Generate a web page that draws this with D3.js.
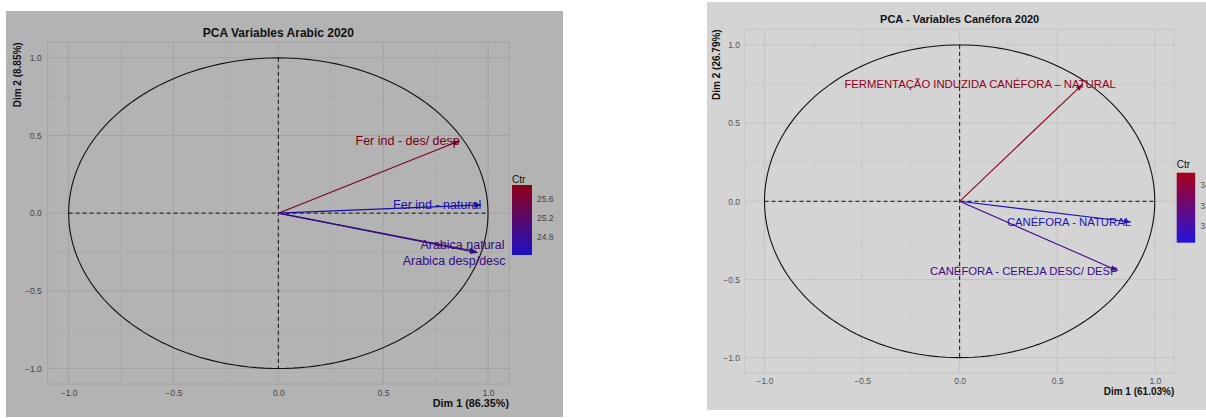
<!DOCTYPE html>
<html>
<head>
<meta charset="utf-8">
<script src="https://cdn.jsdelivr.net/npm/d3@7"></script>
<style>
  body { margin: 0; background: #fff; }
  svg { display: block; font-family: "Liberation Sans", Arial, sans-serif; }
</style>
</head>
<body>
<svg id="chart" width="1206" height="418"></svg>
<script>
// Arabic 2020 variables
var arabicVars = ["Fer ind - des/ desp", "Fer ind - natural", "Arabica natural", "Arabica desp/desc"];
var arabicDim1 = [0.865, 0.968, 0.945, 0.95];
var arabicDim2 = [0.466, 0.053, -0.247, -0.255];
var arabicCtr = [25.9, 24.42, 24.9, 24.78];
var arabicCtrTicks = [24.8, 25.2, 25.6];

// Canefora 2020 variables
var caneforaVars = ["FERMENTAÇÃO INDUZIDA CANÉFORA – NATURAL", "CANÉFORA - NATURAL", "CANÉFORA - CEREJA DESC/ DESP"];
var caneforaDim1 = [0.631, 0.878, 0.81];
var caneforaDim2 = [0.75, -0.132, -0.444];
var caneforaCtr = [34.3, 32.6, 33.1];
var caneforaCtrTicks = [33.0, 33.5, 34.0];

var axisTicks = [-1.0, -0.5, 0.0, 0.5, 1.0];
var minorTicks = [-0.75, -0.25, 0.25, 0.75];

var svg = d3.select("#chart");

function drawPanel(cfg) {
  var g = svg.append("g");

  g.append("rect")
    .attr("x", cfg.bg[0]).attr("y", cfg.bg[1])
    .attr("width", cfg.bg[2] - cfg.bg[0]).attr("height", cfg.bg[3] - cfg.bg[1])
    .attr("fill", cfg.bgColor);

  var x = d3.scaleLinear().domain([-1.1, 1.1]).range([cfg.plot.left, cfg.plot.right]);
  var y = d3.scaleLinear().domain([-1.1, 1.1]).range([cfg.plot.bottom, cfg.plot.top]);

  // grid
  g.selectAll(".minorx").data(minorTicks).enter().append("line")
    .attr("x1", d => x(d)).attr("x2", d => x(d))
    .attr("y1", cfg.plot.top).attr("y2", cfg.plot.bottom)
    .attr("stroke", cfg.gridColor).attr("stroke-width", 0.6).attr("opacity", 0.6);
  g.selectAll(".minory").data(minorTicks).enter().append("line")
    .attr("y1", d => y(d)).attr("y2", d => y(d))
    .attr("x1", cfg.plot.left).attr("x2", cfg.plot.right)
    .attr("stroke", cfg.gridColor).attr("stroke-width", 0.6).attr("opacity", 0.6);
  g.selectAll(".majorx").data(axisTicks).enter().append("line")
    .attr("x1", d => x(d)).attr("x2", d => x(d))
    .attr("y1", cfg.plot.top).attr("y2", cfg.plot.bottom)
    .attr("stroke", cfg.gridColor).attr("stroke-width", 1);
  g.selectAll(".majory").data(axisTicks).enter().append("line")
    .attr("y1", d => y(d)).attr("y2", d => y(d))
    .attr("x1", cfg.plot.left).attr("x2", cfg.plot.right)
    .attr("stroke", cfg.gridColor).attr("stroke-width", 1);

  g.append("rect")
    .attr("x", cfg.plot.left).attr("y", cfg.plot.top)
    .attr("width", cfg.plot.right - cfg.plot.left).attr("height", cfg.plot.bottom - cfg.plot.top)
    .attr("fill", "none").attr("stroke", cfg.gridColor).attr("stroke-width", 1);

  // axes labels (no tick marks)
  var xAxis = g.append("g")
    .attr("transform", "translate(0," + cfg.plot.bottom + ")")
    .call(d3.axisBottom(x).tickValues(axisTicks).tickFormat(d3.format(".1f")).tickSize(0).tickPadding(cfg.xPad));
  var yAxis = g.append("g")
    .attr("transform", "translate(" + cfg.plot.left + ",0)")
    .call(d3.axisLeft(y).tickValues(axisTicks).tickFormat(d3.format(".1f")).tickSize(0).tickPadding(cfg.yPad));
  [xAxis, yAxis].forEach(function(a) {
    a.select(".domain").remove();
    a.selectAll("text").attr("fill", cfg.tickColor).attr("font-size", "8.5px")
      .attr("font-family", "Liberation Sans, Arial, sans-serif");
  });

  // correlation circle
  var circle = d3.range(0, 361, 2).map(a => [Math.cos(a * Math.PI / 180), Math.sin(a * Math.PI / 180)]);
  g.append("path")
    .attr("d", d3.line().x(d => x(d[0])).y(d => y(d[1]))(circle))
    .attr("fill", "none").attr("stroke", "#111").attr("stroke-width", 1.1);

  // dashed axes
  g.append("line").attr("x1", x(-1)).attr("x2", x(1)).attr("y1", y(0)).attr("y2", y(0))
    .attr("stroke", "#111").attr("stroke-dasharray", "4,3").attr("stroke-width", 1);
  g.append("line").attr("x1", x(0)).attr("x2", x(0)).attr("y1", y(1)).attr("y2", y(-1))
    .attr("stroke", "#111").attr("stroke-dasharray", "4,3").attr("stroke-width", 1);

  var ext = d3.extent(cfg.ctr);
  var color = d3.scaleLinear().domain(ext).range(cfg.gradient);

  // arrows
  cfg.vars.forEach(function(name, i) {
    var col = d3.color(color(cfg.ctr[i])).darker(0.45).formatHex();
    var x0 = x(0), y0 = y(0), x1 = x(cfg.dim1[i]), y1 = y(cfg.dim2[i]);
    var ang = Math.atan2(y1 - y0, x1 - x0);
    g.append("line")
      .attr("x1", x0).attr("y1", y0).attr("x2", x1).attr("y2", y1)
      .attr("stroke", col).attr("stroke-width", 1.1);
    var len = 7, w = 2.6;
    var bx = x1 - len * Math.cos(ang), by = y1 - len * Math.sin(ang);
    g.append("path")
      .attr("d", "M" + x1 + "," + y1 +
        "L" + (bx + w * Math.sin(ang)) + "," + (by - w * Math.cos(ang)) +
        "L" + (bx - w * Math.sin(ang)) + "," + (by + w * Math.cos(ang)) + "Z")
      .attr("fill", col);
    g.append("text")
      .attr("x", x1 + cfg.labelNudge[i][0])
      .attr("y", y1 + cfg.labelNudge[i][1])
      .attr("dy", "0.35em")
      .attr("text-anchor", "end")
      .attr("font-size", cfg.labelSize)
      .attr("fill", col)
      .text(name);
  });

  // title
  g.append("text")
    .attr("x", (cfg.plot.left + cfg.plot.right) / 2).attr("y", cfg.titleY)
    .attr("dy", "0.35em").attr("text-anchor", "middle")
    .attr("font-weight", "bold").attr("font-size", cfg.titleSize).attr("fill", "#111")
    .text(cfg.title);

  g.append("text")
    .attr("x", cfg.plot.right).attr("y", cfg.xLabelY)
    .attr("dy", "0.35em").attr("text-anchor", "end")
    .attr("font-weight", "bold").attr("font-size", cfg.xLabelSize).attr("fill", "#111")
    .text(cfg.xLabel);

  g.append("text")
    .attr("transform", "translate(" + cfg.yLabelX + "," + cfg.plot.top + ") rotate(-90)")
    .attr("dy", "0.35em").attr("text-anchor", "end")
    .attr("font-family", "Liberation Sans Narrow, Liberation Sans, sans-serif")
    .attr("font-weight", "bold").attr("font-size", "10px").attr("fill", "#111")
    .text(cfg.yLabel);

  // colour bar legend
  var lg = cfg.legend;
  var gradId = "grad" + cfg.id;
  var grad = svg.append("defs").append("linearGradient")
    .attr("id", gradId).attr("x1", 0).attr("x2", 0).attr("y1", 1).attr("y2", 0);
  grad.append("stop").attr("offset", "0%").attr("stop-color", cfg.gradient[0]);
  grad.append("stop").attr("offset", "100%").attr("stop-color", cfg.gradient[1]);

  g.append("text").attr("x", lg.x).attr("y", lg.titleY).attr("dy", "0.35em")
    .attr("font-size", "10px").attr("fill", "#111").text("Ctr");
  g.append("rect").attr("x", lg.x).attr("y", lg.top)
    .attr("width", lg.w).attr("height", lg.bottom - lg.top)
    .attr("fill", "url(#" + gradId + ")");

  var ly = d3.scaleLinear().domain(ext).range([lg.bottom, lg.top]);
  g.selectAll(".ltick").data(cfg.ticks).enter().append("text")
    .attr("x", lg.x + lg.w + 5).attr("y", d => ly(d)).attr("dy", "0.35em")
    .attr("font-size", "8.5px").attr("fill", cfg.tickColor)
    .text(d => d3.format(".1f")(d));
}

drawPanel({
  id: "a",
  bg: [6, 11, 563, 417], bgColor: "#b3b3b3", gridColor: "#a3a3a3", tickColor: "#444",
  plot: { left: 47.7, right: 509, top: 42.3, bottom: 384 },
  xPad: 5.5, yPad: 6,
  vars: arabicVars, dim1: arabicDim1, dim2: arabicDim2, ctr: arabicCtr, ticks: arabicCtrTicks,
  gradient: ["#1c12c4", "#8e0016"],
  labelNudge: [[0, 0], [0, 0], [28, -7], [28, 8]],
  labelSize: "12.5px",
  title: "PCA Variables Arabic 2020", titleY: 33, titleSize: "12px",
  xLabel: "Dim 1 (86.35%)", xLabelY: 403, xLabelSize: "10.8px",
  yLabel: "Dim 2 (8.85%)", yLabelX: 17,
  legend: { x: 512, w: 20, top: 185, bottom: 255, titleY: 179 }
});

drawPanel({
  id: "c",
  bg: [707, 2, 1206, 410], bgColor: "#d4d4d4", gridColor: "#c4c4c4", tickColor: "#555",
  plot: { left: 745, right: 1174.3, top: 29.3, bottom: 373.3 },
  xPad: 5, yPad: 5,
  vars: caneforaVars, dim1: caneforaDim1, dim2: caneforaDim2, ctr: caneforaCtr, ticks: caneforaCtrTicks,
  gradient: ["#2214dc", "#aa001c"],
  labelNudge: [[33, 0], [0, 0], [0, 0]],
  labelSize: "11.3px",
  title: "PCA - Variables Canéfora 2020", titleY: 19.5, titleSize: "11px",
  xLabel: "Dim 1 (61.03%)", xLabelY: 391.5, xLabelSize: "10px",
  yLabel: "Dim 2 (26.79%)", yLabelX: 716.7,
  legend: { x: 1176.7, w: 18.5, top: 172.7, bottom: 242.7, titleY: 164 }
});
</script>
</body>
</html>
